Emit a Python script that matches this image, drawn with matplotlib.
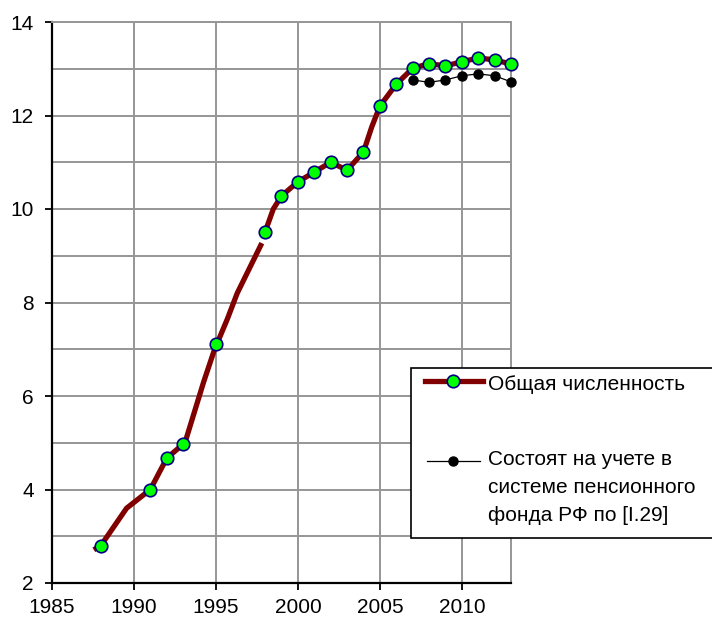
import matplotlib
matplotlib.use('Agg')
import matplotlib.pyplot as plt
from matplotlib.lines import Line2D
from matplotlib.patches import Rectangle
import numpy as np

plt.rcParams['font.family'] = ['Liberation Sans', 'DejaVu Sans']

# total number (markers)
years = [1988, 1991, 1992, 1993, 1995, 1998, 1999, 2000, 2001, 2002, 2003,
         2004, 2005, 2006, 2007, 2008, 2009, 2010, 2011, 2012, 2013]
total = [2.8, 4.0, 4.68, 4.97, 7.11, 9.51, 10.28, 10.58, 10.79, 11.0, 10.83,
         11.22, 12.2, 12.67, 13.01, 13.11, 13.06, 13.15, 13.23, 13.19, 13.1]

# total number (trend line, drawn in pieces)
line_x = [1987.55, 1988, 1989.55, 1991, 1992, 1993, np.nan,
          1993.05, 1994.25, 1994.9, 1995.7, 1996.3, 1997.8, np.nan,
          1998, 1998.5, 1999, 2000, 2001, 2002, 2003, 2004, 2004.5, 2005,
          2006, 2007, 2008, 2009, 2010, 2011, 2012, 2013]
line_y = [2.71, 2.81, 3.6, 4.0, 4.67, 4.97, np.nan,
          4.93, 6.3, 6.98, 7.65, 8.2, 9.27, np.nan,
          9.51, 10.0, 10.28, 10.58, 10.79, 11.0, 10.83, 11.22, 11.75, 12.2,
          12.67, 13.01, 13.11, 13.06, 13.15, 13.23, 13.19, 13.1]

# registered in the pension fund
pf_years = [2007, 2008, 2009, 2010, 2011, 2012, 2013]
pf_vals = [12.76, 12.71, 12.76, 12.85, 12.89, 12.85, 12.72]

label1 = 'Общая численность'
label2 = 'Состоят на учете в\nсистеме пенсионного\nфонда РФ по [I.29]'

fig = plt.figure(figsize=(7.12, 6.19), dpi=100)
ax = fig.add_axes([52/712, 1-583/619, (511-52)/712, (583-22)/619])

ax.plot(line_x, line_y, color='#800000', lw=3.8, solid_capstyle='butt',
        solid_joinstyle='round', zorder=3)
ax.plot(years, total, ls='none', marker='o', ms=9, mfc='#00ff00',
        mec='#000080', mew=1.2, zorder=4, clip_on=False)
ax.plot(pf_years, pf_vals, color='black', lw=0.9, marker='o', ms=6.5,
        mfc='black', mec='black', zorder=4, clip_on=False)

ax.set_xlim(1985, 2013)
ax.set_ylim(2, 14)
ax.set_xticks([1985, 1990, 1995, 2000, 2005, 2010])
ax.set_yticks([2, 4, 6, 8, 10, 12, 14])
ax.set_yticks(np.arange(2, 15, 1), minor=True)
ax.grid(True, which='both', color='#969696', lw=1.4)
ax.set_axisbelow(True)
ax.tick_params(which='minor', length=0)
ax.tick_params(which='major', direction='out', length=5, width=1.3,
               labelsize=15, colors='black')
ax.tick_params(axis='x', pad=6)
ax.tick_params(axis='y', pad=8)
for s in ['left', 'bottom']:
    ax.spines[s].set_color('black')
    ax.spines[s].set_linewidth(1.6)
for s in ['top', 'right']:
    ax.spines[s].set_color('#969696')
    ax.spines[s].set_linewidth(1.4)

# legend box (runs off the right edge)
W, H = 712, 619
def fx(px):
    return px / W
def fy(py):
    return 1 - py / H

fig.add_artist(Rectangle((fx(411), fy(538)), fx(330), 170/H, transform=fig.transFigure,
                         facecolor='white', edgecolor='black', lw=1.2, clip_on=False, zorder=10))
fig.add_artist(Line2D([fx(425), fx(483)], [fy(381), fy(381)], color='#800000', lw=3.8,
                      transform=fig.transFigure, zorder=11))
fig.add_artist(Line2D([fx(453)], [fy(381)], ls='none', marker='o', ms=9, mfc='#00ff00',
                      mec='#000080', mew=1.2, transform=fig.transFigure, zorder=12))
fig.add_artist(Line2D([fx(427), fx(480)], [fy(461), fy(461)], color='black', lw=0.9,
                      transform=fig.transFigure, zorder=11))
fig.add_artist(Line2D([fx(453)], [fy(461)], ls='none', marker='o', ms=6.5, mfc='black',
                      mec='black', transform=fig.transFigure, zorder=12))
fig.text(fx(488), fy(385), label1, fontsize=15, va='center', ha='left', zorder=13)
fig.text(fx(488), fy(450), label2, fontsize=15, va='top', ha='left',
         linespacing=1.6, zorder=13)

fig.savefig('out.png', dpi=100)
